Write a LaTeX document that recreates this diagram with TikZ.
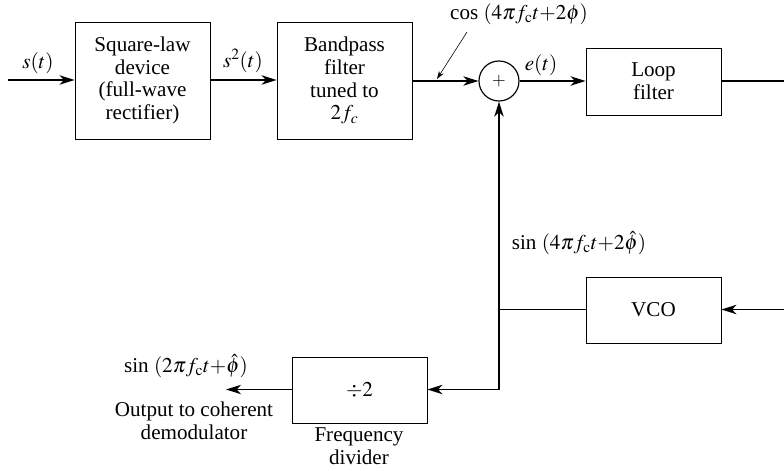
\documentclass[tikz,border=0pt]{standalone}
\usepackage{mathptmx}
\usepackage{fontspec}
\setmainfont{Liberation Serif}
\usetikzlibrary{arrows.meta}

\tikzset{
  blk/.style={draw, line width=0.7pt, minimum width=40.5mm, align=center, inner sep=0pt},
  sig/.style={line width=1.5pt},
  tip/.tip={Stealth[length=4.5mm,width=2.8mm,inset=1.3mm]},
  arr/.style={sig, -tip},
  lbl/.style={inner sep=0pt, align=center},
}

\begin{document}
\begin{tikzpicture}[x=0.3mm, y=-0.3mm, font=\fontsize{18}{19.5}\selectfont]
  \useasboundingbox (0,0) rectangle (784,471);

  % blocks
  \node[blk, minimum height=35.1mm] (sqlaw) at (142.5,80.5) {Square-law\\device\\(full-wave\\rectifier)};
  \node[blk, minimum height=35.1mm] (bpf) at (344.5,80.5) {Bandpass\\filter\\tuned to\\$2f_c$};
  \node[draw, circle, minimum size=12mm, inner sep=0pt, line width=1pt,
        font=\fontsize{15}{15}\selectfont] (sum) at (499,81) {$+$};
  \node[blk, minimum height=20.1mm] (loopf) at (653.5,81.5) {Loop\\filter};
  \node[blk, minimum height=19.8mm] (vco) at (653.5,310) {VCO};
  \node[blk, minimum height=19.8mm] (divd) at (359.5,390) {$\div 2$};

  % free ends and corners
  \coordinate (sin) at (8,80);
  \coordinate (lfout) at (784,81);
  \coordinate (vcoin) at (784,309.5);
  \coordinate (brnch) at (499,309.5);
  \coordinate (corner) at (499,389.5);
  \coordinate (outp) at (226,389.5);
  \coordinate (ptrA) at (467,32);
  \coordinate (ptrB) at (437,79);

  % signal lines
  \draw[arr] (sin) -- (sqlaw.west |- sin);
  \draw[arr] (sqlaw.east |- sin) -- (bpf.west |- sin);
  \draw[arr] (bpf.east |- sum) -- (sum.west);
  \draw[arr] (sum.east) -- (loopf.west |- sum);
  \draw[sig] (loopf.east |- sum) -- (lfout);
  \draw[arr] (vcoin) -- (vco.east |- vcoin);
  \draw[sig] (brnch) -- (vco.west |- brnch);
  \draw[sig, tip-tip] (divd.east |- corner) -- (corner) -- (sum.south);
  \draw[arr] (divd.west |- corner) -- (outp);
  \draw[line width=0.5pt, -{Stealth[length=2.4mm,width=1.6mm]}] (ptrA) -- (ptrB);

  % labels
  \node[lbl] (ls) at (38,63) {$s(t)$};
  \node[lbl] (ls2) at (243,61) {$s^2(t)$};
  \node[lbl] (lcos) at (519,14) {cos $(4\pi f_{\mathrm{c}}t{+}2\phi)$};
  \node[lbl] (le) at (541,65) {$e(t)$};
  \node[lbl] (lsin4) at (579,243) {sin $(4\pi f_{\mathrm{c}}t{+}2\hat{\phi})$};
  \node[lbl] (lsin2) at (186,366) {sin $(2\pi f_{\mathrm{c}}t{+}\hat{\phi})$};
  \node[lbl] (lout) at (194,421) {Output to coherent\\demodulator};
  \node[lbl] (lfreq) at (359,446) {Frequency\\divider};
\end{tikzpicture}
\end{document}
